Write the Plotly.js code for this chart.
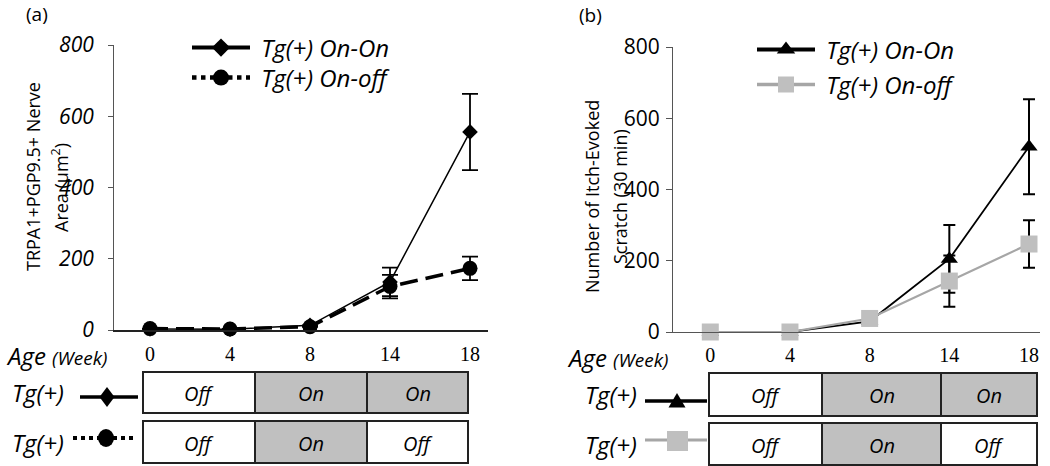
<!DOCTYPE html>
<html>
<head>
<meta charset="utf-8">
<script src="https://cdn.plot.ly/plotly-3.0.1.min.js"></script>
<style>html,body{margin:0;padding:0;background:#fff;}#chart{width:1050px;height:466px;}</style>
</head>
<body>
<div id="chart"></div>
<script>
// ---- data ----
const weeks = ['0', '4', '8', '14', '18'];
const seriesNames = ['Tg(+) On-On', 'Tg(+) On-off'];
// panel (a): TRPA1+PGP9.5+ nerve area (µm²)
const areaOnOn = [3, 2, 13, 135, 556];
const areaOnOnErr = [null, null, null, 40, 107];
const areaOnOff = [4, 3, 9, 122, 173];
const areaOnOffErr = [null, null, null, 33, 33];
// panel (b): number of itch-evoked scratches (30 min)
const scratchOnOn = [0, 0, 30, 205, 520];
const scratchOnOnErr = [null, null, null, 95, 133];
const scratchOnOff = [0, 0, 38, 143, 247];
const scratchOnOffErr = [null, null, null, 72, 67];
const yTicks = [0, 200, 400, 600, 800];
// transgene schedule (weeks 0-8, 8-14, 14-18)
const scheduleOnOn = ['Off', 'On', 'On'];
const scheduleOnOff = ['Off', 'On', 'Off'];

// ---- helpers (pixel -> paper) ----
const W = 1050, H = 466;
const px = x => x / W;
const py = y => 1 - y / H;
const FONT = 'Open Sans, Liberation Sans, sans-serif';
const NB = '\u00a0';

function ann(text, x, y, size, opts) {
  return Object.assign({
    text: text, x: px(x), y: py(y), xref: 'paper', yref: 'paper',
    showarrow: false, xanchor: 'center', yanchor: 'middle',
    font: {family: FONT, size: size, color: '#000'}
  }, opts || {});
}
function italic(size) { return {family: FONT, size: size, color: '#000', style: 'italic'}; }

const traces = [
  {x: weeks, y: areaOnOn, xaxis: 'x', yaxis: 'y', mode: 'lines+markers', showlegend: false,
   line: {color: '#000', width: 1.5}, marker: {symbol: 'diamond', size: 12, color: '#000'},
   error_y: {type: 'data', array: areaOnOnErr, visible: true, color: '#000', thickness: 1.8, width: 8},
   cliponaxis: false, name: seriesNames[0]},
  {x: weeks, y: areaOnOff, xaxis: 'x', yaxis: 'y', mode: 'lines+markers', showlegend: false,
   line: {color: '#000', width: 3.5, dash: '18px,8px'}, marker: {symbol: 'circle', size: 15, color: '#000'},
   error_y: {type: 'data', array: areaOnOffErr, visible: true, color: '#000', thickness: 1.8, width: 8},
   cliponaxis: false, name: seriesNames[1]},
  {x: weeks, y: scratchOnOn, xaxis: 'x2', yaxis: 'y2', mode: 'lines+markers', showlegend: false,
   line: {color: '#000', width: 1.8}, marker: {symbol: 'triangle-up', size: 15, color: '#000'},
   error_y: {type: 'data', array: scratchOnOnErr, visible: true, color: '#000', thickness: 2, width: 6},
   cliponaxis: false, name: seriesNames[0]},
  {x: weeks, y: scratchOnOff, xaxis: 'x2', yaxis: 'y2', mode: 'lines+markers', showlegend: false,
   line: {color: '#a6a6a6', width: 2.2}, marker: {symbol: 'square', size: 17, color: '#bfbfbf'},
   error_y: {type: 'data', array: scratchOnOffErr, visible: true, color: '#000', thickness: 2, width: 6},
   cliponaxis: false, name: seriesNames[1]},
  // legend entries (legend glyph styling differs from the plotted line)
  {x: [null], y: [null], xaxis: 'x', yaxis: 'y', mode: 'lines+markers', legend: 'legend', name: NB + seriesNames[0],
   line: {color: '#000', width: 4}, marker: {symbol: 'diamond', size: 14, color: '#000'}},
  {x: [null], y: [null], xaxis: 'x', yaxis: 'y', mode: 'lines+markers', legend: 'legend3', name: NB + seriesNames[1],
   line: {color: '#000', width: 4.5, dash: 'dot'}, marker: {symbol: 'circle', size: 16, color: '#000'}},
  {x: [null], y: [null], xaxis: 'x2', yaxis: 'y2', mode: 'lines+markers', legend: 'legend2', name: NB + seriesNames[0],
   line: {color: '#000', width: 4}, marker: {symbol: 'triangle-up', size: 16, color: '#000'}},
  {x: [null], y: [null], xaxis: 'x2', yaxis: 'y2', mode: 'lines+markers', legend: 'legend4', name: NB + seriesNames[1],
   line: {color: '#a6a6a6', width: 3.5}, marker: {symbol: 'square', size: 16, color: '#bfbfbf'}}
];

const shapes = [];
const annotations = [];

function buildTable(cellX, rowY, schedules, labelX, glyphs) {
  schedules.forEach((sched, r) => {
    const [y0, y1] = rowY[r];
    sched.forEach((state, c) => {
      shapes.push({type: 'rect', xref: 'paper', yref: 'paper',
        x0: px(cellX[c]), x1: px(cellX[c + 1]), y0: py(y1), y1: py(y0),
        fillcolor: state === 'On' ? '#c0c0c0' : '#ffffff', line: {color: '#222', width: 2}, layer: 'below'});
      annotations.push(ann(state, (cellX[c] + cellX[c + 1]) / 2, (y0 + y1) / 2 + 1, 20, {font: italic(20)}));
    });
    annotations.push(ann('Tg(+)', labelX, (y0 + y1) / 2, 24, {font: italic(24)}));
  });
  glyphs.forEach(g => shapes.push(g));
}

function P(pts) {
  return 'M' + pts.map(p => px(p[0]) + ',' + py(p[1])).join(' L') + ' Z';
}

// left table
buildTable([143, 255, 367, 468], [[372, 413], [421, 463]], [scheduleOnOn, scheduleOnOff], 38, [
  {type: 'line', xref: 'paper', yref: 'paper', x0: px(80), x1: px(138), y0: py(397), y1: py(397), line: {color: '#000', width: 3.5}},
  {type: 'path', xref: 'paper', yref: 'paper', path: P([[107, 387], [114.5, 397], [107, 407], [99.5, 397]]), fillcolor: '#000', line: {width: 0}},
  {type: 'line', xref: 'paper', yref: 'paper', x0: px(73), x1: px(135), y0: py(438), y1: py(438), line: {color: '#000', width: 4, dash: 'dot'}},
  {type: 'circle', xref: 'paper', yref: 'paper', x0: px(98), x1: px(114), y0: py(447), y1: py(429), fillcolor: '#000', line: {width: 0}}
]);
// right table
buildTable([709, 822, 941, 1037], [[373, 416], [423, 465]], [scheduleOnOn, scheduleOnOff], 611, [
  {type: 'line', xref: 'paper', yref: 'paper', x0: px(645), x1: px(707), y0: py(401), y1: py(401), line: {color: '#000', width: 3.5}},
  {type: 'path', xref: 'paper', yref: 'paper', path: P([[677, 393], [685.5, 407.5], [668.5, 407.5]]), fillcolor: '#000', line: {width: 0}},
  {type: 'line', xref: 'paper', yref: 'paper', x0: px(645), x1: px(707), y0: py(440), y1: py(440), line: {color: '#a6a6a6', width: 3}},
  {type: 'rect', xref: 'paper', yref: 'paper', x0: px(667), x1: px(688), y0: py(451), y1: py(431), fillcolor: '#bfbfbf', line: {width: 0}}
]);

annotations.push(ann('(a)', 37, 14, 19));
annotations.push(ann('(b)', 590, 15, 19));
annotations.push(ann('TRPA1+PGP9.5+ Nerve', 33, 177, 18, {textangle: -90}));
annotations.push(ann('Area (µm<sup>2</sup>)', 60, 188, 18, {textangle: -90}));
annotations.push(ann('Number of Itch-Evoked', 592, 197, 18, {textangle: -90}));
annotations.push(ann('Scratch (30 min)', 620, 197, 18, {textangle: -90}));
annotations.push(ann('Age <span style="font-size:19px">(Week)</span>', 56, 355, 24, {font: italic(24)}));
annotations.push(ann('Age <span style="font-size:19px">(Week)</span>', 617, 357, 24, {font: italic(24)}));

const xCommon = {type: 'category', showline: true, linecolor: '#222', ticks: '', showgrid: false, zeroline: false,
  tickfont: {family: 'Liberation Serif, serif', size: 20, color: '#000'}, ticklabelstandoff: 5, fixedrange: true};
const yCommon = {range: [0, 800], tickvals: yTicks, ticks: 'outside', ticklen: 5, tickcolor: '#555',
  showline: true, linecolor: '#555', linewidth: 1, showgrid: false, zeroline: false, fixedrange: true};

function legendAt(x, y) {
  return {x: px(x), y: py(y), xanchor: 'left', yanchor: 'middle', bgcolor: 'rgba(0,0,0,0)', borderwidth: 0,
    itemwidth: 58, font: italic(24)};
}

const layout = {
  width: W, height: H, margin: {l: 0, r: 0, t: 0, b: 0},
  paper_bgcolor: '#fff', plot_bgcolor: 'rgba(0,0,0,0)', showlegend: true,
  xaxis: Object.assign({}, xCommon, {domain: [px(114), px(488)], range: [-0.45, 4.225], anchor: 'y', linewidth: 1.6}),
  yaxis: Object.assign({}, yCommon, {domain: [py(330), py(45)], anchor: 'x', ticklabelstandoff: 10,
    tickfont: {family: FONT, size: 21, color: '#000', style: 'italic'}}),
  xaxis2: Object.assign({}, xCommon, {domain: [px(673), px(1040)], range: [-0.468, 4.138], anchor: 'y2', linewidth: 1, linecolor: '#555'}),
  yaxis2: Object.assign({}, yCommon, {domain: [py(332), py(47)], anchor: 'x2', ticklen: 6, ticklabelstandoff: 2,
    tickfont: {family: FONT, size: 21, color: '#000'}}),
  legend: legendAt(187, 48),
  legend3: legendAt(187, 78),
  legend2: legendAt(752, 50),
  legend4: legendAt(752, 85),
  shapes: shapes,
  annotations: annotations
};

Plotly.newPlot('chart', traces, layout, {displayModeBar: false, staticPlot: true});
</script>
</body>
</html>
